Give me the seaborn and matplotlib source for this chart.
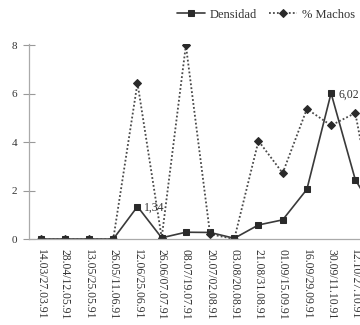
import matplotlib
matplotlib.use("Agg")
import matplotlib.pyplot as plt
import numpy as np
import pandas as pd
import seaborn as sns

# Sampling periods (1991)
periods = [
    "14.03/27.03.91", "28.04/12.05.91", "13.05/25.05.91", "26.05/11.06.91",
    "12.06/25.06.91", "26.06/07.07.91", "08.07/19.07.91", "20.07/02.08.91",
    "03.08/20.08.91", "21.08/31.08.91", "01.09/15.09.91", "16.09/29.09.91",
    "30.09/11.10.91", "12.10/27.10.91", "28.10/10.11.91",
]
densidad = [0, 0, 0, 0, 1.34, 0.05, 0.28, 0.27, 0.03, 0.58, 0.79, 2.05, 6.02, 2.45, 0.8]
machos = [0, 0, 0, 0, 6.44, 0.05, 8.0, 0.2, 0.0, 4.05, 2.72, 5.37, 4.69, 5.2, 0.0]
y_ticks = [0, 2, 4, 6, 8]
value_labels = {4: "1,34", 12: "6,02"}

df = pd.DataFrame({"idx": np.arange(len(periods)), "periodo": periods,
                   "Densidad": densidad, "% Machos": machos})

sns.set_style("white")
plt.rcParams["font.family"] = ["Liberation Serif", "DejaVu Serif"]

fig = plt.figure(figsize=(3.6, 3.25), dpi=100)
ax = fig.add_axes([0.0794, 0.2646, 1.0083, 0.6])

sns.lineplot(data=df, x="idx", y="Densidad", ax=ax, color="#3a3a3a",
             linewidth=1.2, marker="s", markersize=5, markerfacecolor="#2a2a2a",
             markeredgecolor="#2a2a2a", label="Densidad")
sns.lineplot(data=df, x="idx", y="% Machos", ax=ax, color="#4a4a4a",
             linewidth=1.3, linestyle=(0, (1, 1.2)), marker="D", markersize=4.5,
             markerfacecolor="#2a2a2a", markeredgecolor="#2a2a2a", label="% Machos")

for i, txt in value_labels.items():
    ax.annotate(txt, (i, densidad[i]), xytext=(5, -1), textcoords="offset points",
                ha="left", va="center", fontsize=8.5, color="#333333")

ax.set_xlim(-0.5, len(periods) - 0.5)
ax.set_ylim(0, 8.05)
ax.set_yticks(y_ticks)
ax.set_yticklabels([str(t) for t in y_ticks], fontsize=8, color="#333333")
ax.set_xticks(np.arange(len(periods)))
ax.set_xticklabels(periods, rotation=270, fontsize=8.4, color="#333333")
ax.set_xticks(np.arange(len(periods)) + 0.5, minor=True)
ax.tick_params(axis="x", which="major", length=0, pad=7)
ax.tick_params(axis="x", which="minor", length=6, direction="inout", color="#999999", width=0.8)
ax.tick_params(axis="y", length=8, direction="inout", color="#999999", width=0.8, pad=4, left=True)
ax.set_xlabel("")
ax.set_ylabel("")

for side in ("top", "right"):
    ax.spines[side].set_visible(False)
for side in ("left", "bottom"):
    ax.spines[side].set_color("#aaaaaa")
    ax.spines[side].set_linewidth(0.9)

ax.legend(loc="center right", bbox_to_anchor=(1.0, 0.955), bbox_transform=fig.transFigure,
          ncol=2, frameon=False, fontsize=9, handlelength=2.2, handletextpad=0.4,
          columnspacing=1.0, borderaxespad=0, labelcolor="#333333")

fig.savefig("out.png", dpi=100)
